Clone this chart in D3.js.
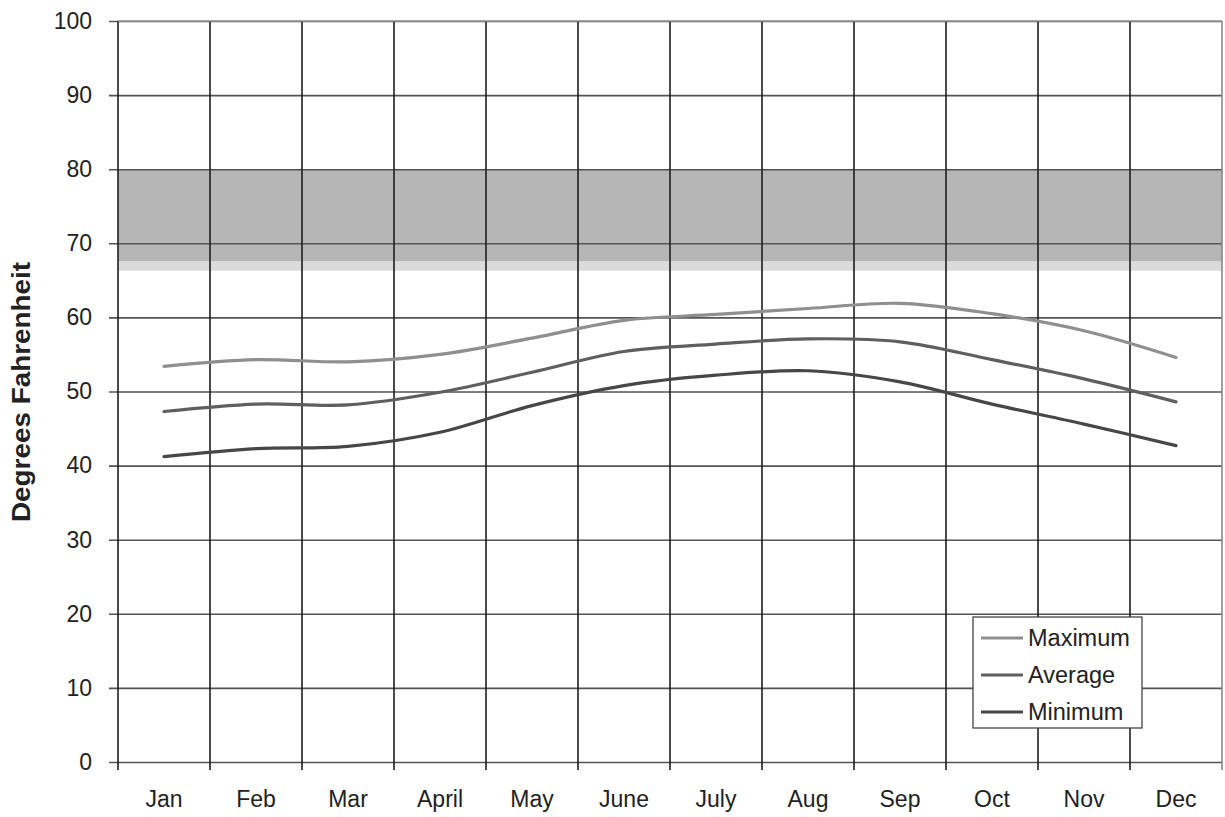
<!DOCTYPE html>
<html>
<head>
<meta charset="utf-8">
<script src="https://cdn.jsdelivr.net/npm/d3@7"></script>
<style>
  html, body { margin: 0; padding: 0; background: #fff; }
  svg { display: block; }
  text { font-family: "Liberation Sans", Arial, sans-serif; fill: #222; }
</style>
</head>
<body>
<svg id="chart" width="1225" height="817"></svg>
<script>
// Monthly temperatures (degrees Fahrenheit)
const months = ["Jan", "Feb", "Mar", "April", "May", "June", "July", "Aug", "Sep", "Oct", "Nov", "Dec"];
const maximum = [53.4, 54.3, 54.0, 55.0, 57.2, 59.6, 60.4, 61.2, 61.9, 60.5, 58.2, 54.6];
const average = [47.3, 48.3, 48.2, 49.9, 52.6, 55.4, 56.4, 57.1, 56.7, 54.3, 51.7, 48.6];
const minimum = [41.2, 42.3, 42.6, 44.5, 48.1, 50.8, 52.2, 52.8, 51.3, 48.3, 45.6, 42.7];
const yTicks = [0, 10, 20, 30, 40, 50, 60, 70, 80, 90, 100];
const comfortBand = [66.3, 80];
const seriesNames = ["Maximum", "Average", "Minimum"];

const series = [
  { name: seriesNames[0], values: maximum, color: "#8f8f8f" },
  { name: seriesNames[1], values: average, color: "#5f5f5f" },
  { name: seriesNames[2], values: minimum, color: "#474747" }
];

const svg = d3.select("#chart");
const margin = { left: 118, right: 3, top: 21, bottom: 55 };
const W = 1225, H = 817;
const innerW = W - margin.left - margin.right;
const innerH = H - margin.top - margin.bottom;

const g = svg.append("g").attr("transform", `translate(${margin.left},${margin.top})`);

const x = d3.scaleBand().domain(months).range([0, innerW]);
const y = d3.scaleLinear().domain([0, 100]).range([innerH, 0]);
const xc = m => x(m) + x.bandwidth() / 2;

// shaded comfort band
g.append("rect")
  .attr("x", 0).attr("width", innerW)
  .attr("y", y(comfortBand[1]))
  .attr("height", y(comfortBand[0]) - y(comfortBand[1]))
  .attr("fill", "#dadada");
g.append("rect")
  .attr("x", 0).attr("width", innerW)
  .attr("y", y(comfortBand[1]))
  .attr("height", y(comfortBand[0] + 1.3) - y(comfortBand[1]))
  .attr("fill", "#b6b6b6");

// horizontal gridlines with left ticks
const yAxis = d3.axisLeft(y).tickValues(yTicks).tickSize(-innerW).tickSizeOuter(0);
const yg = g.append("g").call(yAxis);
yg.select(".domain").remove();
yg.selectAll(".tick line")
  .attr("x1", -9)
  .attr("stroke", "#555").attr("stroke-width", 1.6);
yg.selectAll(".tick text")
  .attr("font-size", 23).attr("fill", "#333")
  .attr("x", -26);

// vertical gridlines at month boundaries
const bounds = months.map(m => x(m)).concat([innerW]);
g.append("g").selectAll("line").data(bounds).join("line")
  .attr("x1", d => d).attr("x2", d => d)
  .attr("y1", 0).attr("y2", innerH + 8)
  .attr("stroke", (d, i) => i === bounds.length - 1 ? "#888" : "#1e1e1e")
  .attr("stroke-width", 1.6);

// top border
g.append("line").attr("x1", 0).attr("x2", innerW).attr("y1", 0).attr("y2", 0)
  .attr("stroke", "#999").attr("stroke-width", 1.6);

// month labels
const xAxis = d3.axisBottom(x).tickSize(0).tickPadding(29);
const xg = g.append("g").attr("transform", `translate(0,${innerH})`).call(xAxis);
xg.select(".domain").remove();
xg.selectAll(".tick text").attr("font-size", 23).attr("fill", "#333");

// axis title
svg.append("text")
  .attr("transform", `translate(30,392) rotate(-90)`)
  .attr("text-anchor", "middle")
  .attr("font-size", 26).attr("font-weight", "bold").attr("fill", "#111")
  .attr("textLength", 260).attr("lengthAdjust", "spacingAndGlyphs")
  .text("Degrees Fahrenheit");

// series lines
const line = d3.line()
  .x((d, i) => xc(months[i]))
  .y(d => y(d))
  .curve(d3.curveCatmullRom.alpha(0.5));

g.append("g").selectAll("path").data(series).join("path")
  .attr("d", s => line(s.values))
  .attr("fill", "none")
  .attr("stroke", s => s.color)
  .attr("stroke-width", 3.2)
  .attr("stroke-linecap", "round");

// legend
const lg = svg.append("g").attr("transform", "translate(973,617)");
lg.append("rect").attr("width", 169).attr("height", 111)
  .attr("fill", "#fff").attr("stroke", "#444").attr("stroke-width", 1.3);
const rows = lg.selectAll("g").data(series).join("g")
  .attr("transform", (d, i) => `translate(0,${21 + i * 37})`);
rows.append("line").attr("x1", 8).attr("x2", 50)
  .attr("stroke", d => d.color).attr("stroke-width", 3.2);
rows.append("text").attr("x", 55).attr("dy", "0.36em")
  .attr("font-size", 23.5).attr("fill", "#333")
  .text(d => d.name);
</script>
</body>
</html>
